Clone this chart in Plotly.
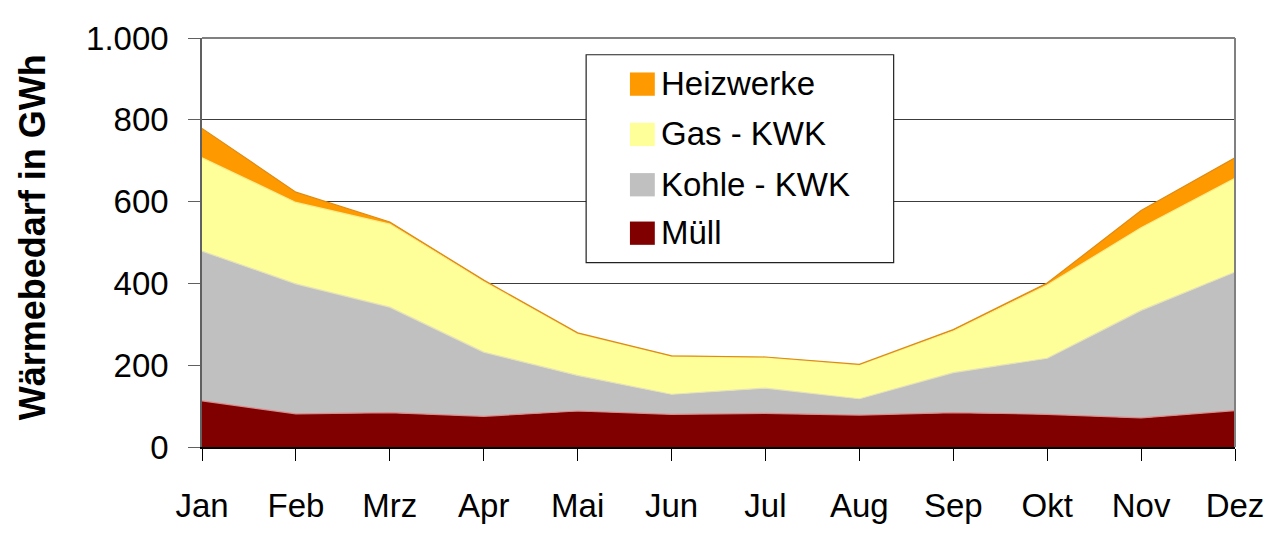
import plotly.graph_objects as go

months = ["Jan", "Feb", "Mrz", "Apr", "Mai", "Jun", "Jul", "Aug", "Sep", "Okt", "Nov", "Dez"]

muell = [113, 81, 84, 75, 88, 80, 82, 78, 84, 80, 71, 89]
kohle_kwk = [366, 318, 258, 157, 87, 49, 62, 40, 98, 137, 263, 339]
gas_kwk = [228, 199, 203, 173, 102, 93, 75, 83, 102, 179, 202, 229]
heizwerke = [72, 25, 5, 3, 2, 1, 1, 1, 3, 5, 42, 50]

y_ticks = [0, 200, 400, 600, 800, 1000]

FONT = "Liberation Sans, Arial, sans-serif"

# the page body adds an 8px offset, so the figure is a bit smaller than the window
OFF = 8
W, H = 1276 - OFF, 536 - OFF
L, R, T, B = 202 - OFF, 36, 23 - OFF, 74


def px_to_paper(x, y):
    # screen pixel -> paper coords (paper == plot area here)
    pw = W - L - R
    ph = H - T - B
    return (x - OFF - L) / pw, (H - B - (y - OFF)) / ph


series = [
    ("Müll", muell, "#800000", "#D88C8C"),
    ("Kohle - KWK", kohle_kwk, "#C0C0C0", "#E6E2B8"),
    ("Gas - KWK", gas_kwk, "#FFFF99", "#F4EE8C"),
    ("Heizwerke", heizwerke, "#FF9900", "#E08A10"),
]

fig = go.Figure()
for name, vals, color, edge in series:
    fig.add_trace(go.Scatter(
        x=months,
        y=vals,
        name=name,
        mode="lines",
        stackgroup="one",
        fillcolor=color,
        line=dict(color=edge, width=1.2),
        showlegend=False,
    ))

# legend drawn by hand so the swatches are big squares like the original
shapes = []
annotations = []
bx0, by0 = px_to_paper(588, 264)
bx1, by1 = px_to_paper(897, 41)
shapes.append(dict(type="rect", xref="paper", yref="paper",
                   x0=bx0, y0=by0, x1=bx1, y1=by1,
                   fillcolor="white", line=dict(color="#222222", width=1.2)))

legend_rows = [72, 126, 180, 232]
for (name, vals, color, edge), row in zip(series[::-1], legend_rows):
    sx0, sy0 = px_to_paper(632, row + 13)
    sx1, sy1 = px_to_paper(657, row - 12)
    shapes.append(dict(type="rect", xref="paper", yref="paper",
                       x0=sx0, y0=sy0, x1=sx1, y1=sy1,
                       fillcolor=color, line=dict(width=0)))
    tx, ty = px_to_paper(661, row)
    annotations.append(dict(x=tx, y=ty, xref="paper", yref="paper",
                            text=name, showarrow=False,
                            xanchor="left", yanchor="middle",
                            font=dict(family=FONT, size=33, color="black")))

# y axis title as a rotated annotation, placed like the original
ax, ay = px_to_paper(32, 237)
annotations.append(dict(x=ax, y=ay, xref="paper", yref="paper",
                        text="<b>Wärmebedarf in GWh</b>", showarrow=False,
                        textangle=-90, xanchor="center", yanchor="middle",
                        font=dict(family=FONT, size=36, color="black")))

# grey frame on top and right side of the plot area
shapes.append(dict(type="line", xref="paper", yref="paper",
                   x0=0, y0=1, x1=1, y1=1, line=dict(color="#808080", width=2)))
shapes.append(dict(type="line", xref="paper", yref="paper",
                   x0=1, y0=0, x1=1, y1=1, line=dict(color="#808080", width=2)))

fig.update_layout(
    width=W,
    height=H,
    margin=dict(l=L, r=R, t=T, b=B),
    plot_bgcolor="white",
    paper_bgcolor="white",
    separators=",.",
    font=dict(family=FONT, color="black"),
    showlegend=False,
    shapes=shapes,
    annotations=annotations,
    xaxis=dict(
        type="category",
        range=[0, len(months) - 1],
        showgrid=False,
        showline=True,
        linecolor="black",
        linewidth=1.5,
        ticks="outside",
        ticklen=12,
        tickcolor="black",
        ticklabelstandoff=17,
        ticklabeloverflow="allow",
        tickfont=dict(family=FONT, size=33),
        zeroline=False,
    ),
    yaxis=dict(
        range=[0, 1000],
        tickvals=y_ticks,
        tickformat=",d",
        showgrid=True,
        gridcolor="#3c3c3c",
        gridwidth=1,
        showline=True,
        linecolor="#606060",
        linewidth=1.5,
        ticks="outside",
        ticklen=12,
        tickcolor="#606060",
        ticklabelstandoff=13,
        ticklabeloverflow="allow",
        tickfont=dict(family=FONT, size=33),
        zeroline=False,
    ),
)

fig.write_html("out.html")
